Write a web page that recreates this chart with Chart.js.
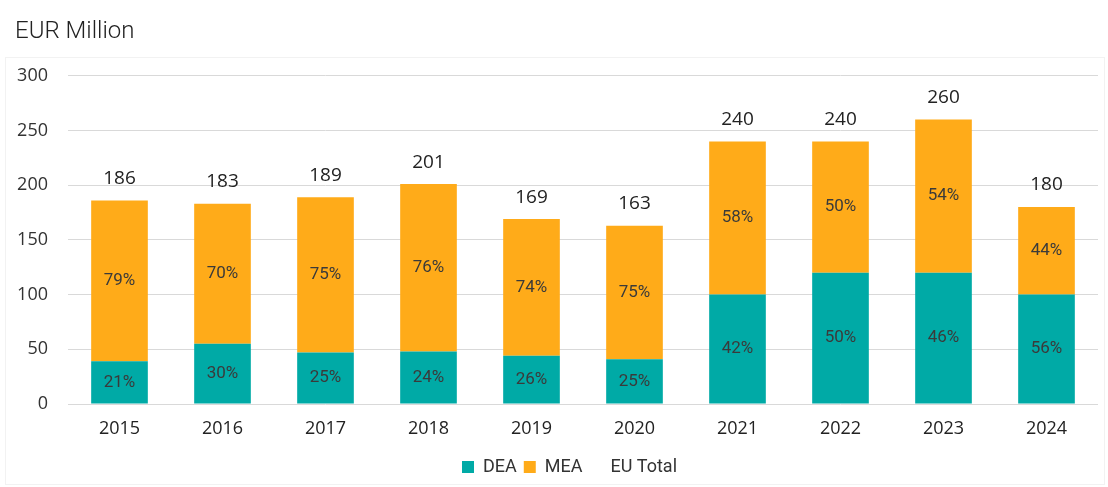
<!DOCTYPE html>
<html>
<head>
<meta charset="utf-8">
<script src="https://cdn.jsdelivr.net/npm/chart.js@4.4.1/dist/chart.umd.min.js"></script>
<style>
  html, body { margin: 0; padding: 0; background: #fff; }
  #wrap { position: relative; width: 1108px; height: 487px; }
  #frame { position: absolute; left: 5px; top: 57px; right: 3px; bottom: 2px; border: 1px solid #f2f2f2; pointer-events: none; }
</style>
</head>
<body>
<div id="wrap">
  <div id="frame"></div>
  <canvas id="c" width="1108" height="487"></canvas>
</div>
<script>
const categories = ['2015','2016','2017','2018','2019','2020','2021','2022','2023','2024'];
const deaValues = [39, 55, 47, 48, 44, 41, 100, 120, 120, 100];
const meaValues = [147, 128, 142, 153, 125, 122, 140, 120, 140, 80];
const euTotal = [186, 183, 189, 201, 169, 163, 240, 240, 260, 180];
const deaPct = ['21%','30%','25%','24%','26%','25%','42%','50%','46%','56%'];
const meaPct = ['79%','70%','75%','76%','74%','75%','58%','50%','54%','44%'];
const yTicks = [0, 50, 100, 150, 200, 250, 300];

const TEAL = '#00aaa6';
const ORANGE = '#ffab19';

const labelPlugin = {
  id: 'labels',
  afterLayout(chart) {
    if (chart.legend) { chart.legend.left += 13; chart.legend.right += 13; }
  },
  afterDatasetsDraw(chart) {
    const ctx = chart.ctx;
    ctx.save();
    ctx.textAlign = 'center';
    ctx.textBaseline = 'middle';
    const pctSets = [deaPct, meaPct];
    [0, 1].forEach(di => {
      const meta = chart.getDatasetMeta(di);
      meta.data.forEach((bar, i) => {
        const p = bar.getProps(['x', 'y', 'base'], true);
        ctx.font = '17px Roboto';
        ctx.fillStyle = '#3a3a3a';
        ctx.fillText(pctSets[di][i], p.x, (p.y + p.base) / 2);
      });
    });
    const tmeta = chart.getDatasetMeta(2);
    tmeta.data.forEach((pt, i) => {
      ctx.font = '19px "Open Sans"';
      ctx.fillStyle = '#222';
      ctx.fillText(String(euTotal[i]), pt.x, pt.y - 22);
    });
    ctx.restore();
  }
};

new Chart(document.getElementById('c'), {
  data: {
    labels: categories,
    datasets: [
      { type: 'bar', label: 'DEA', data: deaValues, backgroundColor: TEAL, stack: 's', barPercentage: 0.55, categoryPercentage: 1.0, order: 2 },
      { type: 'bar', label: 'MEA', data: meaValues, backgroundColor: ORANGE, stack: 's', barPercentage: 0.55, categoryPercentage: 1.0, order: 2 },
      { type: 'line', label: 'EU Total', data: euTotal, stack: 'tot', showLine: false, pointRadius: 0, borderColor: 'rgba(0,0,0,0)', backgroundColor: 'rgba(0,0,0,0)', order: 1 }
    ]
  },
  options: {
    responsive: false,
    animation: false,
    layout: { padding: { left: 15, right: 10, top: 0, bottom: 1 } },
    plugins: {
      title: {
        display: true, text: 'EUR Million', align: 'start',
        font: { family: 'Roboto', size: 24, weight: '300' }, color: '#222',
        padding: { top: 18, bottom: 29 }
      },
      legend: {
        position: 'bottom',
        labels: {
          boxWidth: 12, boxHeight: 12, padding: 7,
          font: { family: 'Roboto', size: 18 }, color: '#333',
          sort: (a, b) => a.datasetIndex - b.datasetIndex
        }
      },
      tooltip: { enabled: false }
    },
    scales: {
      x: {
        stacked: true,
        grid: { display: false, drawTicks: false },
        border: { display: false },
        ticks: { font: { family: '"Open Sans"', size: 18 }, color: '#222', padding: 14 },
        afterFit(scale) { scale.height = 47; }
      },
      y: {
        stacked: true,
        min: 0, max: 300,
        afterBuildTicks(axis) { axis.ticks = yTicks.map(v => ({ value: v })); },
        grid: { color: '#d9d9d9', drawTicks: false, lineWidth: 1 },
        border: { display: false },
        ticks: { font: { family: '"Open Sans"', size: 18 }, color: '#333', padding: 20 },
        afterFit(scale) { scale.width = 53; }
      }
    }
  },
  plugins: [labelPlugin]
});
</script>
</body>
</html>
